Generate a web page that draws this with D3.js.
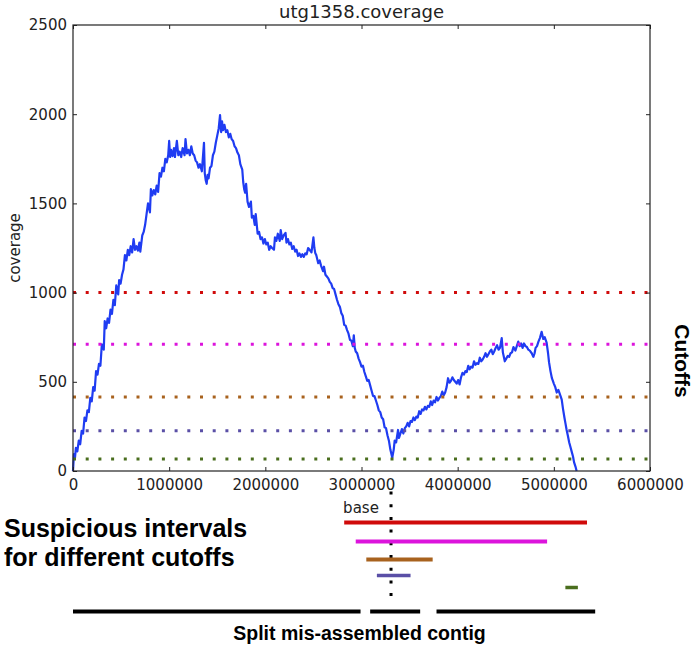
<!DOCTYPE html>
<html>
<head>
<meta charset="utf-8">
<script src="https://cdn.jsdelivr.net/npm/d3@7/dist/d3.min.js"></script>
<style>
  body { margin: 0; background: #fff; }
  svg { display: block; }
</style>
</head>
<body>
<div id="chart"></div>
<script>
// coverage: [position in kb, coverage]
const coverage = [
  [0,0],[10,95],[20,70],[30,130],[45,110],[60,170],[75,150],[90,225],[105,210],[120,300],[135,280],[150,340],[165,330],[180,410],[195,390],[210,470],[225,450],[240,560],
  [255,540],[270,600],[285,590],[300,710],[320,680],[330,840],[345,800],[360,855],[375,830],[390,905],[405,880],[420,960],[435,930],[450,1040],[470,990],[480,1070],
  [495,1050],[510,1100],[525,1130],[540,1210],[555,1180],[570,1240],[585,1210],[600,1260],[615,1225],[630,1300],[645,1240],[660,1260],[675,1235],[690,1280],[700,1230],[720,1320],
  [735,1340],[750,1380],[765,1440],[780,1500],[800,1450],[810,1580],[825,1545],[840,1575],[855,1550],[870,1600],[885,1565],[900,1670],[915,1650],[930,1700],[945,1680],[960,1750],
  [975,1730],[990,1770],[1000,1850],[1010,1760],[1020,1800],[1035,1765],[1050,1810],[1060,1760],[1080,1850],[1095,1770],[1110,1790],[1125,1760],[1140,1810],[1160,1770],[1170,1860],
  [1185,1780],[1200,1800],[1215,1770],[1230,1820],[1245,1780],[1260,1770],[1275,1740],[1290,1730],[1305,1700],[1320,1720],[1340,1680],[1362,1840],[1370,1670],[1380,1630],[1390,1610],[1400,1660],[1410,1640],
  [1425,1700],[1440,1710],[1455,1770],[1470,1790],[1485,1840],[1500,1880],[1515,1920],[1529,1995],[1540,1900],[1550,1960],[1560,1910],[1575,1940],[1590,1900],[1605,1910],[1620,1870],[1635,1890],
  [1650,1860],[1665,1850],[1680,1820],[1695,1810],[1710,1785],[1725,1770],[1740,1720],[1760,1690],[1770,1620],[1780,1580],[1790,1560],[1800,1610],[1815,1510],[1830,1480],[1850,1510],
  [1860,1420],[1875,1430],[1890,1380],[1900,1440],[1920,1330],[1935,1340],[1950,1300],[1965,1310],[1980,1275],[1995,1300],[2010,1270],[2025,1280],[2040,1240],[2055,1260],[2070,1250],[2090,1240],
  [2100,1310],[2115,1290],[2130,1330],[2150,1290],[2160,1350],[2175,1300],[2190,1320],[2210,1335],[2220,1280],[2235,1300],[2250,1270],[2265,1280],[2280,1245],[2295,1260],[2310,1230],
  [2325,1240],[2340,1205],[2355,1220],[2370,1200],[2385,1215],[2400,1200],[2415,1220],[2430,1215],[2445,1250],[2460,1240],[2480,1225],[2500,1310],[2510,1250],[2520,1220],[2530,1210],[2550,1165],
  [2565,1180],[2580,1150],[2600,1120],[2610,1145],[2625,1100],[2640,1090],[2655,1080],[2670,1060],[2685,1050],[2700,1025],[2715,1020],[2730,990],[2745,960],[2760,935],[2775,920],[2790,885],[2805,870],[2820,820],
  [2835,815],[2850,790],[2865,770],[2880,735],[2895,730],[2910,700],[2920,760],[2930,690],[2940,670],[2955,660],[2970,630],[2985,610],[3000,585],[3015,590],[3030,555],[3045,530],[3060,505],[3075,510],[3090,480],
  [3105,450],[3120,420],[3135,420],[3150,395],[3165,370],[3180,340],[3195,330],[3210,300],[3225,290],[3240,245],[3255,240],[3270,200],[3285,170],[3300,120],[3320,75],[3335,120],[3345,170],[3360,160],
  [3380,230],[3390,185],[3405,210],[3420,235],[3435,210],[3450,240],[3465,250],[3480,270],[3495,250],[3510,280],[3525,275],[3540,300],[3555,285],[3570,305],[3585,300],[3600,335],[3615,320],[3630,345],
  [3645,340],[3660,360],[3675,345],[3690,365],[3705,360],[3720,390],[3735,370],[3750,395],[3765,385],[3780,415],[3795,395],[3810,410],[3825,420],[3840,445],[3855,425],[3870,440],[3885,470],[3900,520],[3915,495],[3930,505],
  [3945,525],[3960,510],[3975,500],[3990,490],[4005,510],[4020,485],[4035,525],[4050,550],[4065,540],[4080,560],[4095,555],[4110,590],[4125,570],[4140,585],[4155,580],[4170,615],[4185,595],[4200,605],[4215,600],[4230,635],
  [4245,615],[4260,625],[4275,640],[4290,660],[4305,640],[4320,655],[4335,670],[4350,680],[4365,655],[4380,670],[4395,690],[4410,705],[4425,680],[4440,690],[4458,745],[4470,665],[4480,640],[4490,615],
  [4505,630],[4520,645],[4535,640],[4550,660],[4565,665],[4580,695],[4600,675],[4615,700],[4630,725],[4645,700],[4660,715],[4675,690],[4690,715],[4705,700],[4720,695],[4735,680],[4750,675],[4770,660],[4787,640],
  [4800,660],[4810,690],[4825,700],[4840,725],[4855,745],[4873,780],[4890,740],[4905,750],[4925,720],[4940,660],[4950,610],[4965,560],[4980,520],[5000,490],[5015,470],[5030,440],[5047,455],[5060,435],
  [5070,420],[5082,400],[5095,350],[5110,300],[5120,270],[5133,230],[5145,200],[5160,160],[5170,140],[5185,110],[5200,80],[5210,50],[5225,25],[5237,0]
];

const cutoffs = [1000, 710, 415, 226, 67];
const cutoffColors = ['#d00a0a', '#dc14dc', '#a8621e', '#5a4fa6', '#4a6e1e'];

// suspicious interval for each cutoff, in bases
const intervals = [
  [2820000, 5345000],
  [2940000, 4930000],
  [3050000, 3740000],
  [3160000, 3510000],
  [5120000, 5250000]
];
const contigPieces = [[0, 2990000], [3090000, 3610000], [3780000, 5430000]];
const basePos = 3307000;

const xTicks = [0, 1000000, 2000000, 3000000, 4000000, 5000000, 6000000];
const yTicks = [0, 500, 1000, 1500, 2000, 2500];

const W = 700, H = 648;
const plot = { left: 73, top: 25, right: 650, bottom: 471 };

const svg = d3.select('#chart').append('svg')
    .attr('width', W)
    .attr('height', H);

const x = d3.scaleLinear().domain([0, 6000000]).range([plot.left, plot.right]);
const y = d3.scaleLinear().domain([0, 2500]).range([plot.bottom, plot.top]);

const tickFont = '"DejaVu Sans", sans-serif';

// coverage line
const line = d3.line()
    .x(d => x(d[0] * 1000))
    .y(d => y(d[1]));

svg.append('path')
    .datum(coverage)
    .attr('d', line)
    .attr('fill', 'none')
    .attr('stroke', '#1f3cf2')
    .attr('stroke-width', 2.2)
    .attr('stroke-linejoin', 'round');

// cutoff lines
svg.selectAll('.cutoff')
    .data(cutoffs)
    .join('line')
    .attr('class', 'cutoff')
    .attr('x1', x(0))
    .attr('x2', x(6000000))
    .attr('y1', d => y(d))
    .attr('y2', d => y(d))
    .attr('stroke', (d, i) => cutoffColors[i])
    .attr('stroke-width', 3)
    .attr('stroke-dasharray', '3 9.7');

// axes, ticks pointing inward
const styleAxis = g => {
    g.select('.domain').remove();
    g.selectAll('.tick line').attr('stroke', '#222');
    g.selectAll('.tick text')
        .attr('fill', '#222')
        .style('font-family', tickFont)
        .style('font-size', '15px');
};

svg.append('g')
    .attr('transform', `translate(0,${plot.bottom})`)
    .call(d3.axisBottom(x).tickValues(xTicks).tickFormat(d3.format('d')).tickSize(-4).tickPadding(8))
    .call(styleAxis);

svg.append('g')
    .attr('transform', `translate(0,${plot.top})`)
    .call(d3.axisTop(x).tickValues(xTicks).tickFormat('').tickSize(-4))
    .call(styleAxis);

svg.append('g')
    .attr('transform', `translate(${plot.left},0)`)
    .call(d3.axisLeft(y).tickValues(yTicks).tickFormat(d3.format('d')).tickSize(-4).tickPadding(6))
    .call(styleAxis);

svg.append('g')
    .attr('transform', `translate(${plot.right},0)`)
    .call(d3.axisRight(y).tickValues(yTicks).tickFormat('').tickSize(-4))
    .call(styleAxis);

// frame
svg.append('rect')
    .attr('x', plot.left)
    .attr('y', plot.top)
    .attr('width', plot.right - plot.left)
    .attr('height', plot.bottom - plot.top)
    .attr('fill', 'none')
    .attr('stroke', '#222')
    .attr('stroke-width', 1.2);

// title + axis labels
svg.append('text')
    .attr('x', (plot.left + plot.right) / 2)
    .attr('y', 18)
    .attr('text-anchor', 'middle')
    .style('font-family', tickFont)
    .style('font-size', '18px')
    .attr('fill', '#222')
    .text('utg1358.coverage');

svg.append('text')
    .attr('transform', `translate(20,${(plot.top + plot.bottom) / 2}) rotate(-90)`)
    .attr('text-anchor', 'middle')
    .style('font-family', tickFont)
    .style('font-size', '15px')
    .attr('fill', '#222')
    .text('coverage');

svg.append('text')
    .attr('x', 361)
    .attr('y', 513)
    .attr('text-anchor', 'middle')
    .style('font-family', tickFont)
    .style('font-size', '15px')
    .attr('fill', '#222')
    .text('base');

// annotations
const boldFont = '"Liberation Sans", Arial, sans-serif';

svg.append('text')
    .attr('transform', 'translate(675,361) rotate(90)')
    .attr('text-anchor', 'middle')
    .style('font-family', boldFont)
    .style('font-weight', 'bold')
    .style('font-size', '21px')
    .attr('fill', '#000')
    .text('Cutoffs');

svg.append('text')
    .attr('x', 4)
    .attr('y', 537)
    .style('font-family', boldFont)
    .style('font-weight', 'bold')
    .style('font-size', '25px')
    .attr('fill', '#000')
    .text('Suspicious intervals');

svg.append('text')
    .attr('x', 4)
    .attr('y', 566)
    .style('font-family', boldFont)
    .style('font-weight', 'bold')
    .style('font-size', '25px')
    .attr('fill', '#000')
    .text('for different cutoffs');

svg.append('text')
    .attr('x', 359.5)
    .attr('y', 640)
    .attr('text-anchor', 'middle')
    .style('font-family', boldFont)
    .style('font-weight', 'bold')
    .style('font-size', '19.5px')
    .attr('fill', '#000')
    .text('Split mis-assembled contig');

// base position marker
svg.append('line')
    .attr('x1', x(basePos))
    .attr('x2', x(basePos))
    .attr('y1', 491.5)
    .attr('y2', 598)
    .attr('stroke', '#000')
    .attr('stroke-width', 3)
    .attr('stroke-dasharray', '3 9.7');

// interval bars, one row per cutoff
const rowY = [522.5, 541.5, 559.5, 575.5, 587.5];
svg.selectAll('.interval')
    .data(intervals)
    .join('line')
    .attr('class', 'interval')
    .attr('x1', d => x(d[0]))
    .attr('x2', d => x(d[1]))
    .attr('y1', (d, i) => rowY[i])
    .attr('y2', (d, i) => rowY[i])
    .attr('stroke', (d, i) => cutoffColors[i])
    .attr('stroke-width', (d, i) => i < 3 ? 4 : 3.5);

// split contig pieces
svg.selectAll('.piece')
    .data(contigPieces)
    .join('line')
    .attr('class', 'piece')
    .attr('x1', d => x(d[0]))
    .attr('x2', d => x(d[1]))
    .attr('y1', 611.5)
    .attr('y2', 611.5)
    .attr('stroke', '#000')
    .attr('stroke-width', 4);
</script>
</body>
</html>
